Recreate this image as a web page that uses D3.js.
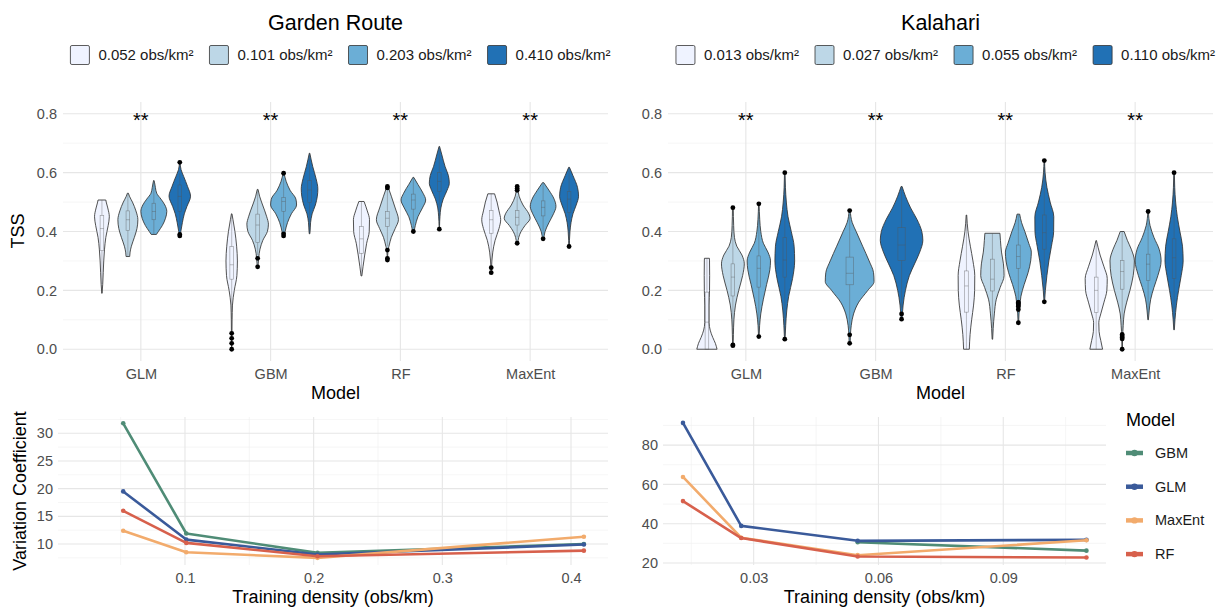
<!DOCTYPE html>
<html><head><meta charset="utf-8">
<script src="https://cdn.jsdelivr.net/npm/d3@7"></script>
<style>
body{margin:0;background:#fff}
svg{display:block}
text{font-family:"Liberation Sans",Arial,Helvetica,sans-serif}
</style>
</head><body>
<svg id="chart" width="1219" height="608"></svg>
<script>
// ---------------- DATA ----------------
const models = ["GLM", "GBM", "RF", "MaxEnt"];
const gardenLevels = ["0.052 obs/km²", "0.101 obs/km²", "0.203 obs/km²", "0.410 obs/km²"];
const kalahariLevels = ["0.013 obs/km²", "0.027 obs/km²", "0.055 obs/km²", "0.110 obs/km²"];
const blues = ["#eff3ff", "#bdd7e7", "#6baed6", "#2171b5"];
const tssTicks = [0, 0.2, 0.4, 0.6, 0.8];
const tssMinor = [0.1, 0.3, 0.5, 0.7];
const signifLabel = "**";
const signifY = 0.8;

// violin: m = model, g = density level, p = [TSS, relative density width], b = [lo, q1, median, q3, hi], o = outliers
const gardenViolins = [
  {m:"GLM", g:0, p:[[0.19,0.01],[0.22,0.06],[0.26,0.1],[0.30,0.14],[0.34,0.2],[0.38,0.3],[0.42,0.48],[0.45,0.57],[0.48,0.45],[0.50,0.33],[0.507,0.3]], b:[0.19,0.335,0.41,0.455,0.507], o:[]},
  {m:"GLM", g:1, p:[[0.315,0.14],[0.33,0.17],[0.35,0.27],[0.38,0.5],[0.41,0.7],[0.44,0.77],[0.47,0.62],[0.50,0.35],[0.52,0.12],[0.53,0.04]], b:[0.315,0.403,0.44,0.47,0.53], o:[]},
  {m:"GLM", g:2, p:[[0.39,0.2],[0.40,0.35],[0.42,0.65],[0.445,0.9],[0.468,1.0],[0.49,0.85],[0.51,0.55],[0.53,0.22],[0.55,0.12],[0.565,0.06],[0.573,0.02]], b:[0.39,0.44,0.468,0.496,0.573], o:[]},
  {m:"GLM", g:3, p:[[0.385,0.04],[0.40,0.08],[0.43,0.2],[0.46,0.35],[0.485,0.55],[0.52,0.83],[0.553,0.6],[0.587,0.3],[0.61,0.1],[0.635,0.02]], b:[0.41,0.468,0.519,0.558,0.60], o:[0.635,0.39,0.385]},
  {m:"GBM", g:0, p:[[0,0.01],[0.05,0.02],[0.10,0.03],[0.15,0.06],[0.20,0.2],[0.25,0.4],[0.30,0.44],[0.35,0.38],[0.40,0.25],[0.44,0.1],[0.46,0.02]], b:[0.10,0.238,0.287,0.349,0.46], o:[0.054,0.037,0.02,0.0]},
  {m:"GBM", g:1, p:[[0.275,0.03],[0.31,0.08],[0.34,0.18],[0.37,0.4],[0.40,0.75],[0.425,0.83],[0.45,0.7],[0.47,0.55],[0.50,0.3],[0.52,0.15],[0.543,0.03]], b:[0.32,0.362,0.422,0.459,0.543], o:[0.309,0.28]},
  {m:"GBM", g:2, p:[[0.383,0.05],[0.40,0.12],[0.43,0.3],[0.46,0.6],[0.49,1.0],[0.51,0.95],[0.54,0.5],[0.57,0.2],[0.60,0.03]], b:[0.40,0.468,0.502,0.516,0.58], o:[0.598,0.392,0.385]},
  {m:"GBM", g:3, p:[[0.392,0.02],[0.40,0.04],[0.43,0.08],[0.46,0.2],[0.49,0.45],[0.52,0.6],[0.545,0.64],[0.58,0.5],[0.62,0.25],[0.666,0.02]], b:[0.40,0.498,0.541,0.573,0.666], o:[]},
  {m:"RF", g:0, p:[[0.249,0.03],[0.28,0.12],[0.32,0.25],[0.36,0.4],[0.40,0.6],[0.44,0.62],[0.47,0.45],[0.502,0.2]], b:[0.249,0.326,0.375,0.417,0.502], o:[]},
  {m:"RF", g:1, p:[[0.303,0.01],[0.337,0.05],[0.35,0.12],[0.38,0.3],[0.41,0.6],[0.44,0.85],[0.48,0.6],[0.52,0.3],[0.553,0.04]], b:[0.35,0.417,0.445,0.468,0.54], o:[0.553,0.548,0.337,0.309,0.303]},
  {m:"RF", g:2, p:[[0.40,0.05],[0.42,0.15],[0.45,0.35],[0.48,0.7],[0.507,0.95],[0.53,0.75],[0.56,0.35],[0.584,0.03]], b:[0.41,0.476,0.507,0.527,0.584], o:[0.40]},
  {m:"RF", g:3, p:[[0.408,0.02],[0.42,0.02],[0.45,0.05],[0.48,0.12],[0.51,0.3],[0.54,0.6],[0.564,0.77],[0.59,0.7],[0.62,0.45],[0.66,0.2],[0.689,0.02]], b:[0.45,0.536,0.57,0.60,0.689], o:[0.408]},
  {m:"MaxEnt", g:0, p:[[0.26,0.02],[0.30,0.05],[0.33,0.12],[0.37,0.3],[0.41,0.6],[0.44,0.73],[0.47,0.6],[0.50,0.45],[0.528,0.26]], b:[0.30,0.394,0.44,0.471,0.528], o:[0.277,0.26]},
  {m:"MaxEnt", g:1, p:[[0.36,0.05],[0.38,0.12],[0.40,0.3],[0.42,0.6],[0.445,1.0],[0.46,0.9],[0.49,0.45],[0.52,0.15],[0.553,0.03]], b:[0.38,0.422,0.448,0.471,0.52], o:[0.553,0.546,0.54,0.36]},
  {m:"MaxEnt", g:2, p:[[0.375,0.05],[0.40,0.15],[0.43,0.45],[0.46,0.8],[0.485,0.99],[0.51,0.85],[0.54,0.45],[0.566,0.05]], b:[0.39,0.453,0.482,0.504,0.566], o:[0.375]},
  {m:"MaxEnt", g:3, p:[[0.349,0.02],[0.37,0.03],[0.40,0.07],[0.43,0.15],[0.46,0.3],[0.49,0.55],[0.52,0.73],[0.55,0.65],[0.59,0.3],[0.618,0.03]], b:[0.37,0.464,0.51,0.536,0.618], o:[0.349]}
];

const kalahariViolins = [
  {m:"GLM", g:0, p:[[0,0.78],[0.02,0.65],[0.04,0.45],[0.065,0.25],[0.09,0.17],[0.15,0.17],[0.20,0.2],[0.25,0.21],[0.30,0.2],[0.309,0.19]], b:[0,0,0.092,0.194,0.309], o:[]},
  {m:"GLM", g:1, p:[[0.012,0.02],[0.05,0.04],[0.10,0.08],[0.15,0.2],[0.20,0.45],[0.25,0.75],[0.29,0.88],[0.32,0.7],[0.35,0.3],[0.38,0.12],[0.42,0.06],[0.481,0.03]], b:[0.03,0.181,0.245,0.29,0.42], o:[0.481,0.015,0.012]},
  {m:"GLM", g:2, p:[[0.043,0.02],[0.08,0.06],[0.12,0.15],[0.17,0.35],[0.22,0.6],[0.27,0.85],[0.30,0.9],[0.33,0.7],[0.36,0.35],[0.40,0.15],[0.44,0.07],[0.494,0.02]], b:[0.06,0.211,0.275,0.317,0.45], o:[0.494,0.043]},
  {m:"GLM", g:3, p:[[0.034,0.02],[0.08,0.07],[0.13,0.15],[0.18,0.3],[0.24,0.6],[0.30,0.76],[0.35,0.72],[0.40,0.5],[0.45,0.25],[0.50,0.12],[0.55,0.05],[0.60,0.02]], b:[0.05,0.245,0.303,0.379,0.56], o:[0.60,0.034]},
  {m:"GBM", g:2, p:[[0.02,0.02],[0.05,0.03],[0.08,0.06],[0.12,0.15],[0.16,0.35],[0.20,0.7],[0.23,0.94],[0.26,0.92],[0.30,0.75],[0.35,0.5],[0.40,0.25],[0.43,0.1],[0.471,0.02]], b:[0.07,0.219,0.258,0.313,0.46], o:[0.471,0.049,0.02]},
  {m:"GBM", g:3, p:[[0.10,0.02],[0.12,0.03],[0.15,0.06],[0.20,0.15],[0.25,0.3],[0.29,0.5],[0.33,0.7],[0.37,0.82],[0.40,0.78],[0.44,0.6],[0.48,0.35],[0.52,0.15],[0.553,0.02]], b:[0.14,0.301,0.354,0.413,0.553], o:[0.12,0.102]},
  {m:"RF", g:0, p:[[0,0.22],[0.05,0.28],[0.10,0.4],[0.15,0.55],[0.20,0.63],[0.25,0.64],[0.30,0.5],[0.35,0.3],[0.40,0.12],[0.456,0.02]], b:[0,0.126,0.215,0.266,0.456], o:[]},
  {m:"RF", g:1, p:[[0.034,0.02],[0.07,0.06],[0.12,0.15],[0.17,0.3],[0.21,0.6],[0.25,0.9],[0.29,0.85],[0.33,0.7],[0.37,0.62],[0.394,0.58]], b:[0.034,0.198,0.238,0.306,0.394], o:[]},
  {m:"RF", g:2, p:[[0.09,0.02],[0.12,0.05],[0.15,0.12],[0.18,0.2],[0.22,0.45],[0.26,0.75],[0.30,0.95],[0.33,1.0],[0.36,0.8],[0.40,0.5],[0.43,0.25],[0.459,0.1]], b:[0.17,0.275,0.315,0.354,0.459], o:[0.16,0.155,0.15,0.145,0.135,0.09]},
  {m:"RF", g:3, p:[[0.161,0.02],[0.20,0.08],[0.25,0.2],[0.30,0.35],[0.35,0.55],[0.40,0.72],[0.45,0.73],[0.50,0.45],[0.55,0.2],[0.60,0.06],[0.641,0.02]], b:[0.18,0.34,0.396,0.456,0.62], o:[0.641,0.161]},
  {m:"MaxEnt", g:0, p:[[0,0.49],[0.03,0.35],[0.06,0.22],[0.09,0.2],[0.12,0.35],[0.16,0.6],[0.20,0.82],[0.24,0.85],[0.28,0.6],[0.32,0.3],[0.369,0.02]], b:[0,0.125,0.2,0.245,0.369], o:[]},
  {m:"MaxEnt", g:1, p:[[0,0.02],[0.04,0.03],[0.08,0.08],[0.12,0.15],[0.16,0.35],[0.20,0.6],[0.25,0.85],[0.30,0.94],[0.34,0.7],[0.37,0.4],[0.40,0.15]], b:[0.06,0.204,0.264,0.301,0.40], o:[0.05,0.045,0.04,0.035,0.0]},
  {m:"MaxEnt", g:2, p:[[0.10,0.02],[0.13,0.08],[0.17,0.2],[0.21,0.45],[0.25,0.75],[0.30,1.0],[0.34,0.85],[0.38,0.45],[0.42,0.15],[0.468,0.02]], b:[0.10,0.233,0.289,0.323,0.43], o:[0.468]},
  {m:"MaxEnt", g:3, p:[[0.066,0.02],[0.10,0.07],[0.15,0.18],[0.20,0.35],[0.25,0.55],[0.30,0.7],[0.35,0.65],[0.40,0.45],[0.45,0.25],[0.50,0.12],[0.55,0.05],[0.60,0.02]], b:[0.066,0.241,0.311,0.375,0.55], o:[0.60]}
];

// Variation coefficient lines
const lineModels = ["GBM", "GLM", "MaxEnt", "RF"];
const lineColors = ["#4f8c76", "#3a5a9a", "#f2ab6c", "#d7604c"];
const gardenX = [0.052, 0.101, 0.203, 0.410];
const gardenGBM = [31.8, 11.9, 8.4, 10.0];
const gardenGLM = [19.5, 10.8, 8.1, 9.9];
const gardenMaxEnt = [12.4, 8.5, 7.5, 11.3];
const gardenRF = [16.0, 10.2, 7.8, 8.8];
const kalahariX = [0.013, 0.027, 0.055, 0.110];
const kalahariGBM = [null, null, 30.6, 26.3];
const kalahariGLM = [91.3, 38.9, 31.3, 31.8];
const kalahariMaxEnt = [63.8, 32.9, 24.0, 31.6];
const kalahariRF = [51.5, 32.7, 23.3, 22.8];
const gardenXTicks = [0.1, 0.2, 0.3, 0.4];
const gardenXMinor = [0.05, 0.15, 0.25, 0.35];
const gardenYTicks = [10, 15, 20, 25, 30];
const gardenYMinor = [7.5, 12.5, 17.5, 22.5, 27.5, 32.5];
const kalahariXTicks = [0.03, 0.06, 0.09];
const kalahariXMinor = [0.015, 0.045, 0.075, 0.105];
const kalahariYTicks = [20, 40, 60, 80];
const kalahariYMinor = [30, 50, 70, 90];

// ---------------- DRAWING ----------------
const svg = d3.select("#chart");
const TICK = "#4d4d4d", MAJ = "#e6e6e6", MIN = "#f0f0f0";

function styleAxis(g) {
  g.select(".domain").remove();
  g.selectAll("line").remove();
  g.selectAll("text").attr("fill", TICK).style("font-size", "14.5px");
}

function gridH(g, y, vals, x0, x1, major) {
  g.selectAll(null).data(vals).join("line")
    .attr("x1", x0).attr("x2", x1).attr("y1", d => y(d)).attr("y2", d => y(d))
    .attr("stroke", major ? MAJ : MIN).attr("stroke-width", major ? 1.1 : 0.6);
}
function gridV(g, xf, vals, y0, y1, major) {
  g.selectAll(null).data(vals).join("line")
    .attr("y1", y0).attr("y2", y1).attr("x1", d => xf(d)).attr("x2", d => xf(d))
    .attr("stroke", major ? MAJ : MIN).attr("stroke-width", major ? 1.1 : 0.6);
}

function violinPanel(opt) {
  const {x0, x1, title, levels, data} = opt;
  const top = 102, bottom = 361;
  const g = svg.append("g");
  const x = d3.scalePoint().domain(models).range([x0, x1]).padding(0.6);
  const y = d3.scaleLinear().domain([-0.04, 0.84]).range([bottom, top]);

  gridH(g, y, tssMinor, x0, x1, false);
  gridH(g, y, tssTicks, x0, x1, true);
  gridV(g, x, models, top, bottom, true);

  const slotTotal = 0.8 * x.step();
  models.forEach(m => {
    const vs = data.filter(d => d.m === m);
    const n = vs.length;
    const slot = slotTotal / n;
    vs.forEach((d, i) => {
      const cx = x(m) + (i - (n - 1) / 2) * slot;
      const area = d3.area().curve(d3.curveMonotoneY)
        .y(p => y(p[0]))
        .x0(p => cx - p[1] * slot / 2)
        .x1(p => cx + p[1] * slot / 2);
      g.append("path").attr("d", area(d.p))
        .attr("fill", blues[d.g]).attr("stroke", "#333").attr("stroke-width", 0.85);
      const bw = slot * 0.14;
      const bg = g.append("g").attr("stroke", "#555").attr("stroke-opacity", 0.6)
        .attr("stroke-width", 0.6).attr("fill", "none");
      bg.append("line").attr("x1", cx).attr("x2", cx).attr("y1", y(d.b[0])).attr("y2", y(d.b[1]));
      bg.append("line").attr("x1", cx).attr("x2", cx).attr("y1", y(d.b[3])).attr("y2", y(d.b[4]));
      bg.append("rect").attr("x", cx - bw / 2).attr("width", bw)
        .attr("y", y(d.b[3])).attr("height", y(d.b[1]) - y(d.b[3]));
      bg.append("line").attr("x1", cx - bw / 2).attr("x2", cx + bw / 2).attr("y1", y(d.b[2])).attr("y2", y(d.b[2]));
      g.selectAll(null).data(d.o).join("circle")
        .attr("cx", cx).attr("cy", v => y(v)).attr("r", 2.4).attr("fill", "#000");
    });
  });

  // significance labels
  g.selectAll(null).data(models).join("text")
    .attr("x", d => x(d)).attr("y", y(signifY) + 13)
    .attr("text-anchor", "middle").style("font-size", "20px").attr("fill", "#000")
    .text(signifLabel);

  // axes
  g.append("g").attr("transform", `translate(${x0},0)`)
    .call(d3.axisLeft(y).tickValues(tssTicks).tickFormat(d3.format(".1f")).tickSize(0).tickPadding(6))
    .call(styleAxis);
  g.append("g").attr("transform", `translate(0,${bottom})`)
    .call(d3.axisBottom(x).tickSize(0).tickPadding(8))
    .call(styleAxis);

  const cxm = (x0 + x1) / 2;
  g.append("text").attr("x", cxm).attr("y", 399).attr("text-anchor", "middle")
    .style("font-size", "18px").attr("fill", "#000").text("Model");
  g.append("text").attr("x", cxm).attr("y", 30).attr("text-anchor", "middle")
    .style("font-size", "21.5px").attr("fill", "#000").text(title);

  // legend
  const lg = g.append("g");
  let cur = 0;
  levels.forEach((lab, i) => {
    const it = lg.append("g");
    it.append("rect").attr("x", 0).attr("y", 45.5).attr("width", 19).attr("height", 19)
      .attr("rx", 1.5).attr("fill", blues[i]).attr("stroke", "#333").attr("stroke-width", 0.8);
    const t = it.append("text").attr("x", 28).attr("y", 60).style("font-size", "15px")
      .attr("fill", "#1a1a1a").text(lab);
    const w = 28 + t.node().getComputedTextLength();
    it.attr("transform", `translate(${cur},0)`);
    cur += w + 16;
  });
  const total = cur - 16;
  lg.attr("transform", `translate(${cxm + 5 - total / 2},0)`);
}

violinPanel({x0: 63, x1: 608, title: "Garden Route", levels: gardenLevels, data: gardenViolins});
violinPanel({x0: 668, x1: 1213, title: "Kalahari", levels: kalahariLevels, data: kalahariViolins});

// TSS title
svg.append("text").attr("transform", "translate(24,231) rotate(-90)").attr("text-anchor", "middle")
  .style("font-size", "18px").attr("fill", "#000").text("TSS");

function linePanel(opt) {
  const {x0, x1, xd, yd, xs, series, xt, xm, yt, ym, xfmt} = opt;
  const top = 417, bottom = 565;
  const g = svg.append("g");
  const x = d3.scaleLinear().domain(xd).range([x0, x1]);
  const y = d3.scaleLinear().domain(yd).range([bottom, top]);
  gridH(g, y, ym, x0, x1, false);
  gridV(g, x, xm, top, bottom, false);
  gridH(g, y, yt, x0, x1, true);
  gridV(g, x, xt, top, bottom, true);

  series.forEach((vals, si) => {
    const pts = xs.map((xv, i) => [xv, vals[i]]);
    const line = d3.line().defined(p => p[1] != null).x(p => x(p[0])).y(p => y(p[1]));
    g.append("path").attr("d", line(pts)).attr("fill", "none")
      .attr("stroke", lineColors[si]).attr("stroke-width", 2.6).attr("stroke-linejoin", "round");
    g.selectAll(null).data(pts.filter(p => p[1] != null)).join("circle")
      .attr("cx", p => x(p[0])).attr("cy", p => y(p[1])).attr("r", 2.3).attr("fill", lineColors[si]);
  });

  g.append("g").attr("transform", `translate(${x0},0)`)
    .call(d3.axisLeft(y).tickValues(yt).tickFormat(d3.format("d")).tickSize(0).tickPadding(5))
    .call(styleAxis);
  g.append("g").attr("transform", `translate(0,${bottom})`)
    .call(d3.axisBottom(x).tickValues(xt).tickFormat(d3.format(xfmt)).tickSize(0).tickPadding(8))
    .call(styleAxis);
  g.append("text").attr("x", (x0 + x1) / 2).attr("y", 603).attr("text-anchor", "middle")
    .style("font-size", "18px").attr("fill", "#000").text("Training density (obs/km)");
}

linePanel({x0: 58, x1: 608, xd: [0.00132, 0.42875], yd: [6.21, 32.94], xs: gardenX,
  series: [gardenGBM, gardenGLM, gardenMaxEnt, gardenRF],
  xt: gardenXTicks, xm: gardenXMinor, yt: gardenYTicks, ym: gardenYMinor, xfmt: ".1f"});
linePanel({x0: 663, x1: 1106, xd: [0.0082, 0.1147], yd: [19.0, 94.3], xs: kalahariX,
  series: [kalahariGBM, kalahariGLM, kalahariMaxEnt, kalahariRF],
  xt: kalahariXTicks, xm: kalahariXMinor, yt: kalahariYTicks, ym: kalahariYMinor, xfmt: ".2f"});

svg.append("text").attr("transform", "translate(26,491) rotate(-90)").attr("text-anchor", "middle")
  .style("font-size", "18px").attr("fill", "#000").text("Variation Coefficient");

// Model legend
const leg = svg.append("g");
leg.append("text").attr("x", 1126).attr("y", 426).style("font-size", "18px").attr("fill", "#000").text("Model");
lineModels.forEach((m, i) => {
  const yy = 453 + i * 33.7;
  leg.append("line").attr("x1", 1126).attr("x2", 1143).attr("y1", yy).attr("y2", yy)
    .attr("stroke", lineColors[i]).attr("stroke-width", 4.5);
  leg.append("circle").attr("cx", 1134.5).attr("cy", yy).attr("r", 3.2).attr("fill", lineColors[i]);
  leg.append("text").attr("x", 1155).attr("y", yy + 5).style("font-size", "14.5px")
    .attr("fill", "#1a1a1a").text(m);
});
</script>
</body></html>
